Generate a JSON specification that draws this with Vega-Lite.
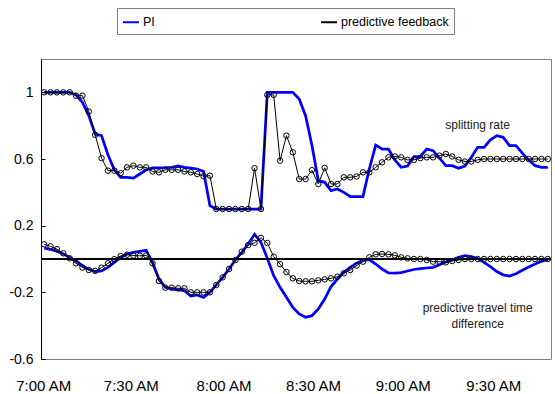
{
  "$schema": "https://vega.github.io/schema/vega-lite/v6.json",
  "width": 510,
  "height": 300,
  "autosize": {"type": "none"},
  "padding": {"left": 41, "top": 59, "right": 4, "bottom": 35},
  "background": "white",
  "config": {
    "view": {"stroke": "#808080", "strokeWidth": 1},
    "font": "Liberation Sans",
    "axis": {"labelOverlap": false},
    "axisY": {"labelOverlap": false}
  },
  "data": {
    "values": [
      {"minute": 0, "pi_split": 1.0, "pf_split": 1.0, "pi_diff": 0.065, "pf_diff": 0.088},
      {"minute": 2, "pi_split": 1.0, "pf_split": 1.0, "pi_diff": 0.058, "pf_diff": 0.076},
      {"minute": 4, "pi_split": 1.0, "pf_split": 1.0, "pi_diff": 0.047, "pf_diff": 0.059},
      {"minute": 6, "pi_split": 1.0, "pf_split": 1.0, "pi_diff": 0.03, "pf_diff": 0.034},
      {"minute": 8, "pi_split": 1.0, "pf_split": 1.0, "pi_diff": 0.01, "pf_diff": 0.004},
      {"minute": 10, "pi_split": 0.985, "pf_split": 0.98, "pi_diff": -0.012, "pf_diff": -0.026},
      {"minute": 12, "pi_split": 0.94, "pf_split": 0.98, "pi_diff": -0.04, "pf_diff": -0.051},
      {"minute": 14, "pi_split": 0.86, "pf_split": 0.885, "pi_diff": -0.062, "pf_diff": -0.066},
      {"minute": 16, "pi_split": 0.75, "pf_split": 0.745, "pi_diff": -0.075, "pf_diff": -0.071},
      {"minute": 18, "pi_split": 0.74, "pf_split": 0.605, "pi_diff": -0.072, "pf_diff": -0.052},
      {"minute": 20, "pi_split": 0.625, "pf_split": 0.53, "pi_diff": -0.05, "pf_diff": -0.026},
      {"minute": 22, "pi_split": 0.535, "pf_split": 0.53, "pi_diff": -0.02, "pf_diff": -0.001},
      {"minute": 24, "pi_split": 0.49, "pf_split": 0.515, "pi_diff": 0.01, "pf_diff": 0.018},
      {"minute": 26, "pi_split": 0.49, "pf_split": 0.55, "pi_diff": 0.03, "pf_diff": 0.026},
      {"minute": 28, "pi_split": 0.485, "pf_split": 0.56, "pi_diff": 0.04, "pf_diff": 0.021},
      {"minute": 30, "pi_split": 0.51, "pf_split": 0.55, "pi_diff": 0.046, "pf_diff": 0.019},
      {"minute": 32, "pi_split": 0.535, "pf_split": 0.55, "pi_diff": 0.052, "pf_diff": 0.022},
      {"minute": 34, "pi_split": 0.547, "pf_split": 0.525, "pi_diff": -0.022, "pf_diff": -0.026},
      {"minute": 36, "pi_split": 0.547, "pf_split": 0.52, "pi_diff": -0.12, "pf_diff": -0.132},
      {"minute": 38, "pi_split": 0.548, "pf_split": 0.535, "pi_diff": -0.17, "pf_diff": -0.172},
      {"minute": 40, "pi_split": 0.55, "pf_split": 0.535, "pi_diff": -0.18, "pf_diff": -0.172},
      {"minute": 42, "pi_split": 0.558, "pf_split": 0.535, "pi_diff": -0.186, "pf_diff": -0.176},
      {"minute": 44, "pi_split": 0.55, "pf_split": 0.525, "pi_diff": -0.19, "pf_diff": -0.176},
      {"minute": 46, "pi_split": 0.545, "pf_split": 0.52, "pi_diff": -0.222, "pf_diff": -0.2},
      {"minute": 48, "pi_split": 0.54, "pf_split": 0.51, "pi_diff": -0.216, "pf_diff": -0.2},
      {"minute": 50, "pi_split": 0.525, "pf_split": 0.497, "pi_diff": -0.23, "pf_diff": -0.2},
      {"minute": 52, "pi_split": 0.32, "pf_split": 0.5, "pi_diff": -0.2, "pf_diff": -0.2},
      {"minute": 54, "pi_split": 0.3, "pf_split": 0.3, "pi_diff": -0.155, "pf_diff": -0.156},
      {"minute": 56, "pi_split": 0.3, "pf_split": 0.3, "pi_diff": -0.11, "pf_diff": -0.11},
      {"minute": 58, "pi_split": 0.3, "pf_split": 0.3, "pi_diff": -0.06, "pf_diff": -0.06},
      {"minute": 60, "pi_split": 0.3, "pf_split": 0.3, "pi_diff": -0.005, "pf_diff": -0.006},
      {"minute": 62, "pi_split": 0.3, "pf_split": 0.3, "pi_diff": 0.04, "pf_diff": 0.044},
      {"minute": 64, "pi_split": 0.3, "pf_split": 0.3, "pi_diff": 0.09, "pf_diff": 0.084},
      {"minute": 66, "pi_split": 0.3, "pf_split": 0.545, "pi_diff": 0.148, "pf_diff": 0.097},
      {"minute": 68, "pi_split": 0.3, "pf_split": 0.3, "pi_diff": 0.1, "pf_diff": 0.127},
      {"minute": 70, "pi_split": 1.0, "pf_split": 0.985, "pi_diff": 0.005, "pf_diff": 0.096},
      {"minute": 72, "pi_split": 1.0, "pf_split": 0.985, "pi_diff": -0.1, "pf_diff": 0.014},
      {"minute": 74, "pi_split": 1.0, "pf_split": 0.59, "pi_diff": -0.17, "pf_diff": -0.031},
      {"minute": 76, "pi_split": 1.0, "pf_split": 0.74, "pi_diff": -0.23, "pf_diff": -0.078},
      {"minute": 78, "pi_split": 1.0, "pf_split": 0.64, "pi_diff": -0.29, "pf_diff": -0.116},
      {"minute": 80, "pi_split": 0.96, "pf_split": 0.48, "pi_diff": -0.33, "pf_diff": -0.132},
      {"minute": 82, "pi_split": 0.86, "pf_split": 0.48, "pi_diff": -0.35, "pf_diff": -0.134},
      {"minute": 84, "pi_split": 0.683, "pf_split": 0.533, "pi_diff": -0.34, "pf_diff": -0.134},
      {"minute": 86, "pi_split": 0.47, "pf_split": 0.45, "pi_diff": -0.3, "pf_diff": -0.128},
      {"minute": 88, "pi_split": 0.46, "pf_split": 0.547, "pi_diff": -0.24, "pf_diff": -0.122},
      {"minute": 90, "pi_split": 0.41, "pf_split": 0.45, "pi_diff": -0.165, "pf_diff": -0.116},
      {"minute": 92, "pi_split": 0.42, "pf_split": 0.45, "pi_diff": -0.12, "pf_diff": -0.106},
      {"minute": 94, "pi_split": 0.4, "pf_split": 0.49, "pi_diff": -0.08, "pf_diff": -0.086},
      {"minute": 96, "pi_split": 0.375, "pf_split": 0.49, "pi_diff": -0.05, "pf_diff": -0.066},
      {"minute": 98, "pi_split": 0.375, "pf_split": 0.495, "pi_diff": -0.025, "pf_diff": -0.04},
      {"minute": 100, "pi_split": 0.375, "pf_split": 0.52, "pi_diff": -0.008, "pf_diff": -0.016},
      {"minute": 102, "pi_split": 0.54, "pf_split": 0.52, "pi_diff": -0.004, "pf_diff": 0.01},
      {"minute": 104, "pi_split": 0.683, "pf_split": 0.55, "pi_diff": -0.03, "pf_diff": 0.028},
      {"minute": 106, "pi_split": 0.66, "pf_split": 0.58, "pi_diff": -0.06, "pf_diff": 0.03},
      {"minute": 108, "pi_split": 0.66, "pf_split": 0.61, "pi_diff": -0.084, "pf_diff": 0.028},
      {"minute": 110, "pi_split": 0.595, "pf_split": 0.615, "pi_diff": -0.085, "pf_diff": 0.022},
      {"minute": 112, "pi_split": 0.55, "pf_split": 0.61, "pi_diff": -0.082, "pf_diff": 0.01},
      {"minute": 114, "pi_split": 0.558, "pf_split": 0.595, "pi_diff": -0.072, "pf_diff": 0.004},
      {"minute": 116, "pi_split": 0.615, "pf_split": 0.595, "pi_diff": -0.063, "pf_diff": 0.0},
      {"minute": 118, "pi_split": 0.615, "pf_split": 0.605, "pi_diff": -0.058, "pf_diff": 0.0},
      {"minute": 120, "pi_split": 0.66, "pf_split": 0.61, "pi_diff": -0.054, "pf_diff": -0.006},
      {"minute": 122, "pi_split": 0.65, "pf_split": 0.61, "pi_diff": -0.05, "pf_diff": -0.016},
      {"minute": 124, "pi_split": 0.605, "pf_split": 0.62, "pi_diff": -0.035, "pf_diff": -0.016},
      {"minute": 126, "pi_split": 0.56, "pf_split": 0.63, "pi_diff": -0.018, "pf_diff": -0.02},
      {"minute": 128, "pi_split": 0.56, "pf_split": 0.615, "pi_diff": -0.006, "pf_diff": -0.012},
      {"minute": 130, "pi_split": 0.545, "pf_split": 0.595, "pi_diff": 0.01, "pf_diff": -0.006},
      {"minute": 132, "pi_split": 0.558, "pf_split": 0.585, "pi_diff": 0.02, "pf_diff": 0.0},
      {"minute": 134, "pi_split": 0.61, "pf_split": 0.585, "pi_diff": 0.014, "pf_diff": 0.0},
      {"minute": 136, "pi_split": 0.67, "pf_split": 0.595, "pi_diff": 0.003, "pf_diff": 0.0},
      {"minute": 138, "pi_split": 0.67, "pf_split": 0.6, "pi_diff": -0.02, "pf_diff": 0.0},
      {"minute": 140, "pi_split": 0.715, "pf_split": 0.6, "pi_diff": -0.046, "pf_diff": 0.0},
      {"minute": 142, "pi_split": 0.74, "pf_split": 0.6, "pi_diff": -0.075, "pf_diff": 0.0},
      {"minute": 144, "pi_split": 0.73, "pf_split": 0.6, "pi_diff": -0.095, "pf_diff": 0.0},
      {"minute": 146, "pi_split": 0.68, "pf_split": 0.6, "pi_diff": -0.102, "pf_diff": 0.0},
      {"minute": 148, "pi_split": 0.68, "pf_split": 0.6, "pi_diff": -0.088, "pf_diff": 0.0},
      {"minute": 150, "pi_split": 0.635, "pf_split": 0.6, "pi_diff": -0.068, "pf_diff": 0.0},
      {"minute": 152, "pi_split": 0.595, "pf_split": 0.6, "pi_diff": -0.048, "pf_diff": 0.0},
      {"minute": 154, "pi_split": 0.56, "pf_split": 0.6, "pi_diff": -0.03, "pf_diff": 0.0},
      {"minute": 156, "pi_split": 0.55, "pf_split": 0.6, "pi_diff": -0.014, "pf_diff": 0.0},
      {"minute": 158, "pi_split": 0.55, "pf_split": 0.6, "pi_diff": -0.002, "pf_diff": 0.0}
    ]
  },
  "layer": [
    {
      "mark": {"type": "line", "strokeWidth": 2.75},
      "encoding": {
        "x": {
          "field": "minute", "type": "quantitative", "title": "time of day",
          "scale": {"domain": [-1, 159], "nice": false, "zero": false},
          "axis": {
            "orient": "bottom", "title": null, "grid": false, "domain": false, "ticks": false,
            "values": [0, 30, 60, 90, 120, 150],
            "labelExpr": "(7 + floor(datum.value / 60)) + ':' + (datum.value % 60 == 0 ? '00' : '30') + ' AM'",
            "labelFont": "Liberation Sans", "labelFontSize": 15,
            "labelColor": "black", "labelPadding": 19, "labelFlush": false, "labelOverlap": false,
            "labelOffset": {
              "condition": [
                {"test": "datum.value == 0", "value": -1},
                {"test": "datum.value == 30", "value": -9},
                {"test": "datum.value == 60", "value": -12},
                {"test": "datum.value == 90", "value": -18},
                {"test": "datum.value == 120", "value": -24}
              ],
              "value": -29
            }
          }
        },
        "y": {
          "field": "pi_split", "type": "quantitative",
          "scale": {"domain": [-0.6, 1.2], "nice": false, "zero": false},
          "axis": {
            "orient": "left", "title": null, "grid": false,
            "values": [-0.6, -0.4, -0.2, 0, 0.2, 0.4, 0.6, 0.8, 1, 1.2],
            "labelExpr": "'' + round(datum.value * 10) / 10",
            "labelOverlap": false, "labelFlush": false,
            "domainColor": "black", "domainWidth": 1,
            "tickColor": "black", "tickSize": -4, "labelPadding": 12,
            "labelFont": "Liberation Sans", "labelFontSize": 14, "labelColor": "black"
          }
        },
        "color": {
          "datum": "PI", "type": "nominal",
          "scale": {"domain": ["PI", "predictive feedback"], "range": ["#0000ff", "#000000"]},
          "legend": {
            "orient": "none", "legendX": 76, "legendY": -51, "direction": "horizontal", "title": null,
            "strokeColor": "#808080", "fillColor": "white", "padding": 5,
            "symbolType": "stroke", "symbolSize": 256, "symbolStrokeWidth": 2,
            "labelOffset": 3, "columnPadding": 162,
            "labelFont": "Liberation Sans", "labelFontSize": 12.5, "labelColor": "black"
          }
        }
      }
    },
    {
      "mark": {"type": "line", "strokeWidth": 2.75},
      "encoding": {
        "x": {"field": "minute", "type": "quantitative"},
        "y": {"field": "pi_diff", "type": "quantitative"},
        "color": {"datum": "PI", "type": "nominal"}
      }
    },
    {
      "mark": {"type": "rule", "color": "black", "strokeWidth": 1.5},
      "encoding": {"y": {"datum": 0, "type": "quantitative"}}
    },
    {
      "mark": {"type": "line", "strokeWidth": 1, "point": {"filled": false, "size": 30, "strokeWidth": 1}},
      "encoding": {
        "x": {"field": "minute", "type": "quantitative"},
        "y": {"field": "pf_split", "type": "quantitative"},
        "color": {"datum": "predictive feedback", "type": "nominal"}
      }
    },
    {
      "mark": {"type": "line", "strokeWidth": 1, "point": {"filled": false, "size": 30, "strokeWidth": 1}},
      "encoding": {
        "x": {"field": "minute", "type": "quantitative"},
        "y": {"field": "pf_diff", "type": "quantitative"},
        "color": {"datum": "predictive feedback", "type": "nominal"}
      }
    },
    {
      "data": {"values": [{"note": "splitting rate", "minute": 136, "value": 0.805}]},
      "mark": {"type": "text", "font": "Liberation Sans", "fontSize": 12, "color": "#222222", "align": "center", "baseline": "middle"},
      "encoding": {
        "x": {"field": "minute", "type": "quantitative"},
        "y": {"field": "value", "type": "quantitative"},
        "text": {"field": "note"}
      }
    },
    {
      "data": {"values": [{"minute": 136, "value": -0.294}]},
      "mark": {"type": "text", "text": ["predictive travel time", "difference"], "lineHeight": 16, "font": "Liberation Sans", "fontSize": 12, "color": "#222222", "align": "center", "baseline": "middle"},
      "encoding": {
        "x": {"field": "minute", "type": "quantitative"},
        "y": {"field": "value", "type": "quantitative"}
      }
    }
  ]
}
